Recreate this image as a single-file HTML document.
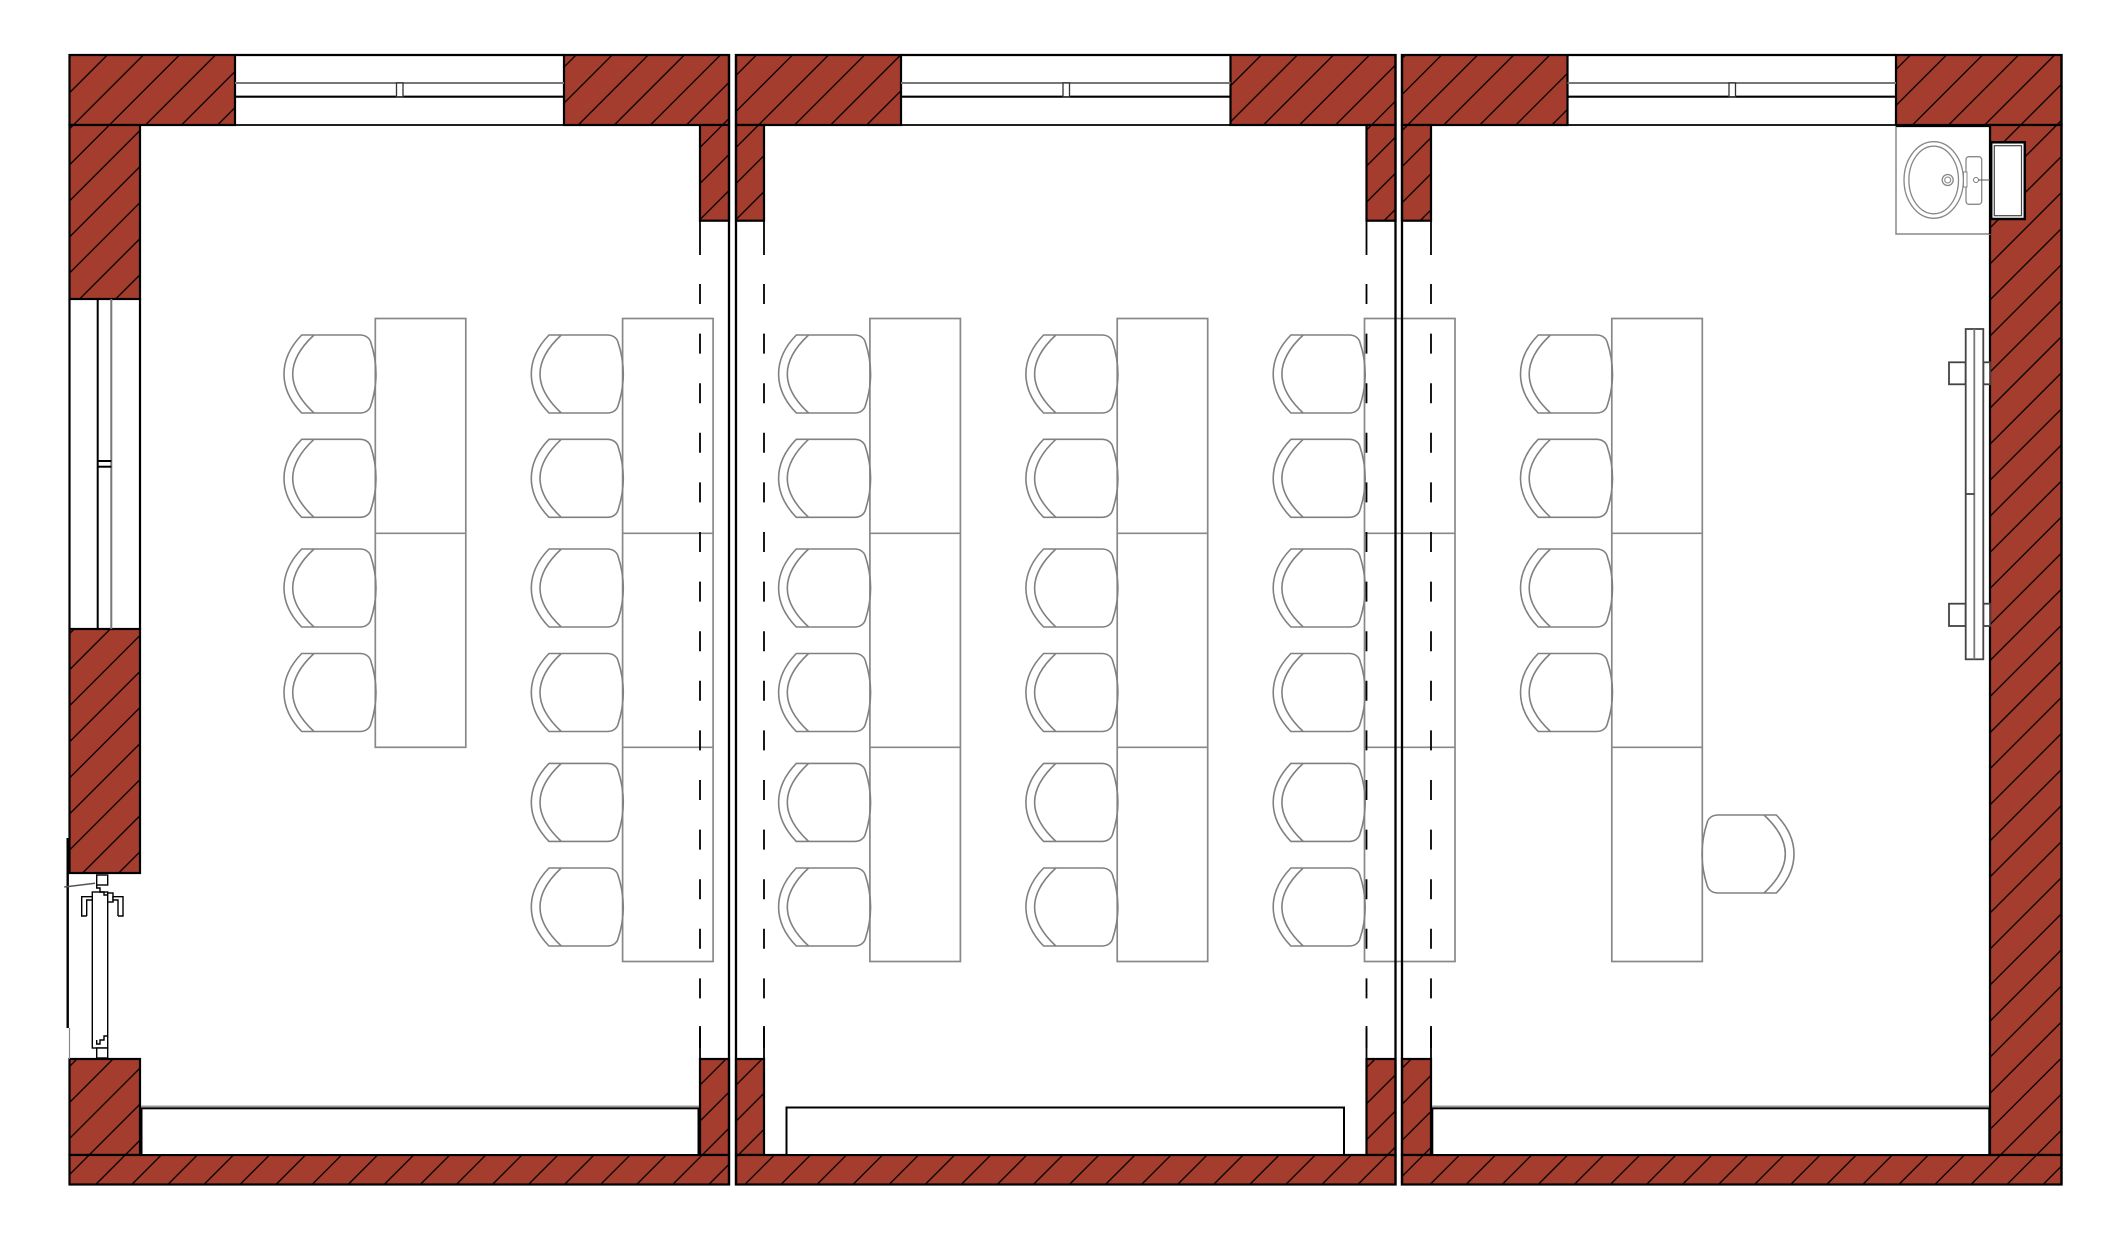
<!DOCTYPE html>
<html>
<head>
<meta charset="utf-8">
<style>
html,body{margin:0;padding:0;background:#fff;}
svg{display:block;}
</style>
</head>
<body>
<svg width="2126" height="1241" viewBox="0 0 2126 1241" xmlns="http://www.w3.org/2000/svg" xmlns:xlink="http://www.w3.org/1999/xlink">
<defs>
  <pattern id="h" patternUnits="userSpaceOnUse" width="25.5" height="25.5" patternTransform="rotate(45)">
    <rect width="25.5" height="25.5" fill="#a53d2f"/>
    <line x1="12.75" y1="-1" x2="12.75" y2="26.5" stroke="#000" stroke-width="1.3"/>
  </pattern>
  <path id="ch" d="M17.7,0 H76 C81,0 85,2.5 86.5,6.5 C90,17 92,28 92,39 C92,50 90,61 86.5,71.5 C85,75.5 81,78 76,78 H17.7 C6,66 0,53 0,39 C0,25 6,12 17.7,0 Z M30,0 C17,12 8.7,25 8.7,39 C8.7,53 17,66 30,78" fill="none" stroke="#808080" stroke-width="1.6"/>
</defs>
<rect width="2126" height="1241" fill="#fff"/>

<!-- hatched walls -->
<g fill="url(#h)" stroke="#000" stroke-width="2.2">
  <!-- Room 1 -->
  <rect x="69.5" y="55" width="165.5" height="70"/>
  <rect x="564" y="55" width="165" height="70"/>
  <rect x="69.5" y="125" width="70.5" height="174"/>
  <rect x="69.5" y="629" width="70.5" height="244"/>
  <rect x="69.5" y="1059" width="70.5" height="96"/>
  <rect x="700" y="125" width="29" height="95.7"/>
  <rect x="700" y="1059" width="29" height="96"/>
  <rect x="69.5" y="1155" width="659.5" height="29.5"/>
  <!-- Room 2 -->
  <rect x="736" y="55" width="165" height="70"/>
  <rect x="1230.5" y="55" width="165" height="70"/>
  <rect x="736" y="125" width="28" height="95.7"/>
  <rect x="736" y="1059" width="28" height="96"/>
  <rect x="1366.5" y="125" width="29" height="95.7"/>
  <rect x="1366.5" y="1059" width="29" height="96"/>
  <rect x="736" y="1155" width="659.5" height="29.5"/>
  <!-- Room 3 -->
  <rect x="1402" y="55" width="165.5" height="70"/>
  <rect x="1896" y="55" width="165.5" height="70"/>
  <rect x="1402" y="125" width="29" height="95.7"/>
  <rect x="1402" y="1059" width="29" height="96"/>
  <rect x="1990" y="125" width="71.5" height="1030"/>
  <rect x="1402" y="1155" width="659.5" height="29.5"/>
</g>

<!-- top windows -->
<g>
  <g stroke="#000" stroke-width="2.2">
    <line x1="235" y1="55" x2="564" y2="55"/>
    <line x1="235" y1="96.7" x2="564" y2="96.7"/>
    <line x1="901" y1="55" x2="1230.5" y2="55"/>
    <line x1="901" y1="96.7" x2="1230.5" y2="96.7"/>
    <line x1="1567.5" y1="55" x2="1896" y2="55"/>
    <line x1="1567.5" y1="96.7" x2="1896" y2="96.7"/>
  </g>
  <g stroke="#000" stroke-width="1.8">
    <line x1="235" y1="125" x2="564" y2="125"/>
    <line x1="901" y1="125" x2="1230.5" y2="125"/>
    <line x1="1567.5" y1="125" x2="1896" y2="125"/>
  </g>
  <g stroke="#777" stroke-width="2">
    <line x1="235" y1="83" x2="564" y2="83"/>
    <line x1="901" y1="83" x2="1230.5" y2="83"/>
    <line x1="1567.5" y1="83" x2="1896" y2="83"/>
  </g>
  <g fill="#fff" stroke="#333" stroke-width="1.3">
    <rect x="396.5" y="83" width="6.5" height="13.7"/>
    <rect x="1063" y="83" width="6.5" height="13.7"/>
    <rect x="1729" y="83" width="6.5" height="13.7"/>
  </g>
</g>

<!-- left window room 1 -->
<g>
  <line x1="69.5" y1="299" x2="69.5" y2="629" stroke="#000" stroke-width="2.2"/>
  <line x1="97.7" y1="299" x2="97.7" y2="629" stroke="#000" stroke-width="2"/>
  <line x1="111.3" y1="299" x2="111.3" y2="629" stroke="#777" stroke-width="2"/>
  <line x1="140" y1="299" x2="140" y2="629" stroke="#000" stroke-width="2.2"/>
  <line x1="97.7" y1="461" x2="111.3" y2="461" stroke="#000" stroke-width="2"/>
  <line x1="97.7" y1="466.7" x2="111.3" y2="466.7" stroke="#000" stroke-width="2"/>
</g>

<!-- door room 1 -->
<g fill="none">
  <line x1="67.7" y1="838" x2="67.7" y2="1028" stroke="#000" stroke-width="2.4"/>
  <line x1="69.5" y1="1028" x2="69.5" y2="1059" stroke="#888" stroke-width="1.2"/>
  <line x1="64.3" y1="887" x2="95" y2="883.3" stroke="#555" stroke-width="1.5"/>
  <g stroke="#000" stroke-width="1.4" fill="#fff">
    <rect x="96.7" y="875" width="11" height="10"/>
    <rect x="92.3" y="892" width="15.4" height="156"/>
    <rect x="96.7" y="1048" width="11" height="10"/>
    <polyline points="96.7,885 96.7,888 100,888 100,892 104,892 104,895 107.7,895" fill="none"/>
    <polyline points="96.7,1040 96.7,1044 100,1044 100,1040 104,1040 104,1036 107.7,1036" fill="none"/>
    <polyline points="86.7,916 81.7,916 81.7,896.7 92.3,896.7 92.3,900 86.7,900 86.7,916"/>
    <rect x="107.7" y="893" width="5.3" height="9"/>
    <polyline points="118,916 123,916 123,896.7 113,896.7 113,900 118,900 118,916"/>
  </g>
</g>

<!-- bottom ledges -->
<g>
  <g stroke="#999" stroke-width="1.5">
    <line x1="141" y1="1106.3" x2="699" y2="1106.3"/>
    <line x1="1432" y1="1106.3" x2="1989" y2="1106.3"/>
  </g>
  <g fill="#fff" stroke="#000" stroke-width="2">
    <rect x="141.5" y="1108.3" width="557" height="46.7"/>
    <rect x="786.5" y="1107.5" width="557.5" height="47.5"/>
    <rect x="1432.3" y="1108.3" width="557" height="46.7"/>
  </g>
</g>

<!-- desks -->
<g fill="none" stroke="#888" stroke-width="1.7">
  <rect x="375.3" y="318.5" width="90.5" height="428.8"/>
  <line x1="375.3" y1="533.3" x2="465.8" y2="533.3"/>

  <rect x="622.6" y="318.5" width="90.5" height="643"/>
  <line x1="622.6" y1="533.3" x2="713.1" y2="533.3"/>
  <line x1="622.6" y1="747.3" x2="713.1" y2="747.3"/>

  <rect x="869.9" y="318.5" width="90.5" height="643"/>
  <line x1="869.9" y1="533.3" x2="960.4" y2="533.3"/>
  <line x1="869.9" y1="747.3" x2="960.4" y2="747.3"/>

  <rect x="1117.2" y="318.5" width="90.5" height="643"/>
  <line x1="1117.2" y1="533.3" x2="1207.7" y2="533.3"/>
  <line x1="1117.2" y1="747.3" x2="1207.7" y2="747.3"/>

  <rect x="1364.5" y="318.5" width="90.5" height="643"/>
  <line x1="1364.5" y1="533.3" x2="1455" y2="533.3"/>
  <line x1="1364.5" y1="747.3" x2="1455" y2="747.3"/>

  <rect x="1611.8" y="318.5" width="90.5" height="643"/>
  <line x1="1611.8" y1="533.3" x2="1702.3" y2="533.3"/>
  <line x1="1611.8" y1="747.3" x2="1702.3" y2="747.3"/>
</g>

<!-- chairs -->
<g>
  <use href="#ch" xlink:href="#ch" x="284" y="335"/>
  <use href="#ch" xlink:href="#ch" x="284" y="439.3"/>
  <use href="#ch" xlink:href="#ch" x="284" y="549"/>
  <use href="#ch" xlink:href="#ch" x="284" y="653.5"/>

  <use href="#ch" xlink:href="#ch" x="531.3" y="335"/>
  <use href="#ch" xlink:href="#ch" x="531.3" y="439.3"/>
  <use href="#ch" xlink:href="#ch" x="531.3" y="549"/>
  <use href="#ch" xlink:href="#ch" x="531.3" y="653.5"/>
  <use href="#ch" xlink:href="#ch" x="531.3" y="763.4"/>
  <use href="#ch" xlink:href="#ch" x="531.3" y="868"/>

  <use href="#ch" xlink:href="#ch" x="778.6" y="335"/>
  <use href="#ch" xlink:href="#ch" x="778.6" y="439.3"/>
  <use href="#ch" xlink:href="#ch" x="778.6" y="549"/>
  <use href="#ch" xlink:href="#ch" x="778.6" y="653.5"/>
  <use href="#ch" xlink:href="#ch" x="778.6" y="763.4"/>
  <use href="#ch" xlink:href="#ch" x="778.6" y="868"/>

  <use href="#ch" xlink:href="#ch" x="1025.9" y="335"/>
  <use href="#ch" xlink:href="#ch" x="1025.9" y="439.3"/>
  <use href="#ch" xlink:href="#ch" x="1025.9" y="549"/>
  <use href="#ch" xlink:href="#ch" x="1025.9" y="653.5"/>
  <use href="#ch" xlink:href="#ch" x="1025.9" y="763.4"/>
  <use href="#ch" xlink:href="#ch" x="1025.9" y="868"/>

  <use href="#ch" xlink:href="#ch" x="1273.2" y="335"/>
  <use href="#ch" xlink:href="#ch" x="1273.2" y="439.3"/>
  <use href="#ch" xlink:href="#ch" x="1273.2" y="549"/>
  <use href="#ch" xlink:href="#ch" x="1273.2" y="653.5"/>
  <use href="#ch" xlink:href="#ch" x="1273.2" y="763.4"/>
  <use href="#ch" xlink:href="#ch" x="1273.2" y="868"/>

  <use href="#ch" xlink:href="#ch" x="1520.5" y="335"/>
  <use href="#ch" xlink:href="#ch" x="1520.5" y="439.3"/>
  <use href="#ch" xlink:href="#ch" x="1520.5" y="549"/>
  <use href="#ch" xlink:href="#ch" x="1520.5" y="653.5"/>

  <use href="#ch" xlink:href="#ch" transform="translate(1794,815) scale(-1,1)"/>
</g>

<!-- dashed lines -->
<g stroke="#000" stroke-width="1.8">
  <line x1="700" y1="220.7" x2="700" y2="255"/>
  <line x1="700" y1="284" x2="700" y2="1048" stroke-dasharray="20 29.6"/>
  <line x1="700" y1="1026" x2="700" y2="1059"/>

  <line x1="764" y1="220.7" x2="764" y2="255"/>
  <line x1="764" y1="284" x2="764" y2="1048" stroke-dasharray="20 29.6"/>
  <line x1="764" y1="1026" x2="764" y2="1059"/>

  <line x1="1366.5" y1="220.7" x2="1366.5" y2="255"/>
  <line x1="1366.5" y1="284" x2="1366.5" y2="1048" stroke-dasharray="20 29.6"/>
  <line x1="1366.5" y1="1026" x2="1366.5" y2="1059"/>

  <line x1="1431" y1="220.7" x2="1431" y2="255"/>
  <line x1="1431" y1="284" x2="1431" y2="1048" stroke-dasharray="20 29.6"/>
  <line x1="1431" y1="1026" x2="1431" y2="1059"/>
</g>

<!-- room boundary lines -->
<g stroke="#000" stroke-width="2.3">
  <line x1="729" y1="54" x2="729" y2="1185.5"/>
  <line x1="736" y1="54" x2="736" y2="1185.5"/>
  <line x1="1395.5" y1="54" x2="1395.5" y2="1185.5"/>
  <line x1="1402" y1="54" x2="1402" y2="1185.5"/>
  <line x1="2061.5" y1="54" x2="2061.5" y2="1185.5"/>
</g>

<!-- sink -->
<g>
  <rect x="1896" y="126.5" width="94" height="107.5" fill="#fff" stroke="#888" stroke-width="1.5"/>
  <line x1="1896" y1="126" x2="1990" y2="126" stroke="#000" stroke-width="2"/>
  <line x1="1990" y1="125" x2="1990" y2="234" stroke="#000" stroke-width="2.2"/>
  <ellipse cx="1933.7" cy="180" rx="29.7" ry="38.3" fill="none" stroke="#888" stroke-width="1.3"/>
  <ellipse cx="1933.7" cy="180" rx="24.8" ry="33.8" fill="none" stroke="#888" stroke-width="1.3"/>
  <circle cx="1947.7" cy="180" r="5.5" fill="none" stroke="#888" stroke-width="1.3"/>
  <circle cx="1947.7" cy="180" r="3" fill="none" stroke="#888" stroke-width="1.1"/>
  <rect x="1966" y="156.7" width="15.7" height="47.6" rx="3" fill="#fff" stroke="#888" stroke-width="1.3"/>
  <rect x="1963.5" y="172" width="3.5" height="15" fill="#fff" stroke="#888" stroke-width="1"/>
  <circle cx="1976" cy="180" r="2.5" fill="none" stroke="#777" stroke-width="1"/>
  <line x1="1978.5" y1="180" x2="1998" y2="180" stroke="#555" stroke-width="1"/>
  <rect x="1991.2" y="142.3" width="33.6" height="76.7" fill="#fff" stroke="#000" stroke-width="2.5"/>
  <rect x="1994.3" y="145.7" width="27.2" height="70" fill="#fff" stroke="#444" stroke-width="1.2"/>
</g>

<!-- radiator -->
<g fill="#fff" stroke="#444" stroke-width="1.8">
  <rect x="1949" y="362.3" width="16.7" height="22"/>
  <rect x="1983.3" y="362.3" width="6.7" height="22"/>
  <rect x="1949" y="603.7" width="16.7" height="22.3"/>
  <rect x="1983.3" y="603.7" width="6.7" height="22.3"/>
  <rect x="1965.7" y="329" width="17.6" height="330.3"/>
  <line x1="1974.3" y1="329" x2="1974.3" y2="659.3" stroke="#777"/>
  <line x1="1965.7" y1="494" x2="1974.3" y2="494"/>
</g>

</svg>
</body>
</html>
